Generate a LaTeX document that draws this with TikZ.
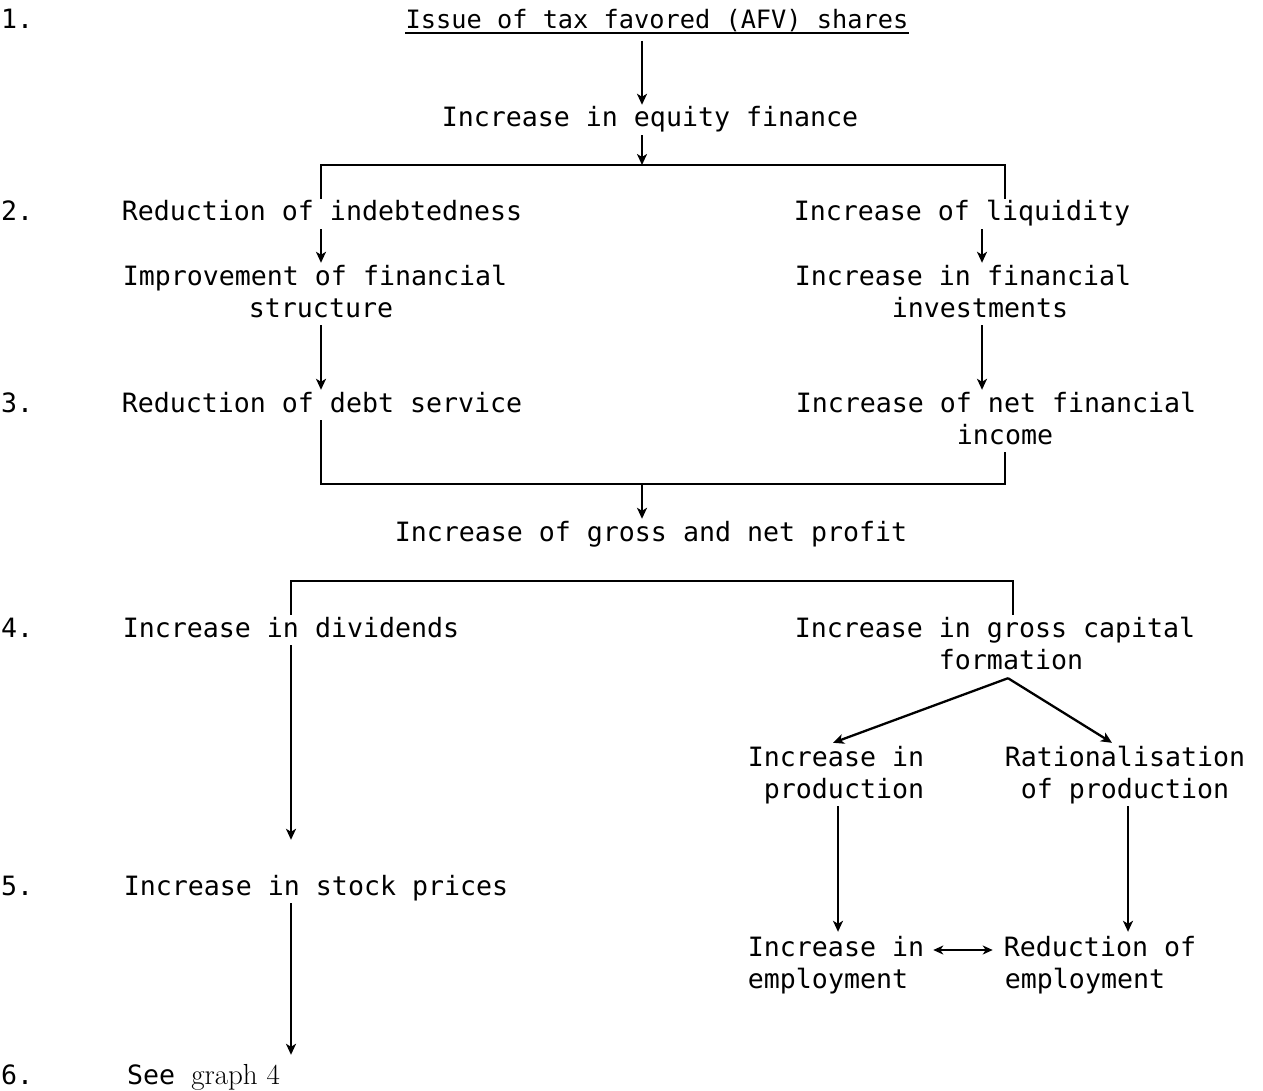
\documentclass[tikz,border=0pt]{standalone}
\usepackage{fontspec}
\newfontfamily\tw{DejaVu Sans Mono}
\usetikzlibrary{arrows.meta}
\begin{document}
\begin{tikzpicture}[x=1pt,y=-1pt,
  txt/.style={font=\tw\fontsize{26.6}{32}\selectfont, inner xsep=0pt, inner ysep=2pt, text height=20pt, text depth=6pt, anchor=base},
  num/.style={txt, anchor=base west},
  ln/.style={line width=2.3pt},
  arr/.style={ln, -{Stealth[length=11pt,width=10pt,inset=3pt]}},
  darr/.style={ln, {Stealth[length=10pt,width=9pt,inset=3pt]}-{Stealth[length=10pt,width=9pt,inset=3pt]}}]
\path[use as bounding box] (0,0) rectangle (1263,1091);
% row numbers
\node[num] (n1) at (1,29) {1.};
\node[num] (n2) at (1,221) {2.};
\node[num] (n3) at (1,412) {3.};
\node[num] (n4) at (1,637) {4.};
\node[num] (n5) at (1,895) {5.};
\node[num] (n6) at (1,1084) {6.};
% nodes
\node[txt, font=\tw\fontsize{25.3}{32}\selectfont] (title) at (657,29) {Issue of tax favored (AFV) shares};
\node[txt] (eq) at (650,127) {Increase in equity finance};
\node[txt] (r2l) at (322,221) {Reduction of indebtedness};
\node[txt] (r2r) at (962,221) {Increase of liquidity};
\node[txt] (imp1) at (315,285) {Improvement of financial};
\node[txt] (imp2) at (321,317) {structure};
\node[txt] (inc1) at (963,285) {Increase in financial};
\node[txt] (inc2) at (980,317) {investments};
\node[txt] (r3l) at (322,412) {Reduction of debt service};
\node[txt] (r3r1) at (996,412) {Increase of net financial};
\node[txt] (r3r2) at (1005,444) {income};
\node[txt] (prof) at (651,541) {Increase of gross and net profit};
\node[txt] (r4l) at (291,637) {Increase in dividends};
\node[txt] (r4r1) at (995,637) {Increase in gross capital};
\node[txt] (r4r2) at (1011,669) {formation};
\node[txt] (p1) at (836,766) {Increase in};
\node[txt] (p2) at (844,798) {production};
\node[txt] (q1) at (1125,766) {Rationalisation};
\node[txt] (q2) at (1125,798) {of production};
\node[txt] (e1) at (836,956) {Increase in};
\node[txt] (e2) at (828,988) {employment};
\node[txt] (f1) at (1100,956) {Reduction of};
\node[txt] (f2) at (1085,988) {employment};
\node[txt] (r5) at (316,895) {Increase in stock prices};
\node[txt, anchor=base west] (r6) at (127,1084) {See {\fontspec{Latin Modern Roman 10 Regular}\fontsize{29}{32}\selectfont graph 4}};
% x positions
\coordinate (xc) at (642,0);
\coordinate (xL) at (321,0);
\coordinate (xR) at (982,0);
\coordinate (xRR) at (1005,0);
\coordinate (xD) at (291,0);
\coordinate (xG) at (1013,0);
\coordinate (xP) at (838,0);
\coordinate (xQ) at (1128,0);
\coordinate (b1) at (0,165);
\coordinate (b2) at (0,484);
\coordinate (b3) at (0,581);
% underline of title
\draw[line width=1.8pt] ([yshift=-4pt]title.base west) -- ([yshift=-4pt]title.base east);
% connectors
\draw[arr] ([yshift=-12pt]title.base -| xc) -- (eq.north -| xc);
\draw[arr] (eq.south -| xc) -- (b1 -| xc);
\draw[ln] (r2l.north -| xL) -- (b1 -| xL) -- (b1 -| xRR) -- (r2r.north -| xRR);
\draw[arr] (r2l.south -| xL) -- (imp1.north -| xL);
\draw[arr] (r2r.south -| xR) -- (inc1.north -| xR);
\draw[arr] (imp2.south -| xL) -- (r3l.north -| xL);
\draw[arr] (inc2.south -| xR) -- (r3r1.north -| xR);
\draw[ln] (r3l.south -| xL) -- (b2 -| xL) -- (b2 -| xRR) -- (r3r2.south -| xRR);
\draw[arr] (b2 -| xc) -- (prof.north -| xc);
\draw[ln] (r4l.north -| xD) -- (b3 -| xD) -- (b3 -| xG) -- (r4r1.north -| xG);
\draw[arr, shorten >=33pt] (r4l.south -| xD) -- (r5.north -| xD);
\draw[arr, shorten >=7pt] (r5.south -| xD) -- (r6.north -| xD);
\coordinate (apex) at ([yshift=-1pt]r4r2.south -| 1008,0);
\draw[arr] (apex) -- ([xshift=-3pt,yshift=1pt]p1.north);
\draw[arr] (apex) -- ([xshift=-13pt,yshift=1pt]q1.north);
\draw[arr] (p2.south -| xP) -- ([yshift=2pt]e1.north -| xP);
\draw[arr] (q2.south -| xQ) -- ([yshift=2pt]f1.north -| xQ);
\draw[darr] ([xshift=9pt,yshift=6pt]e1.base east) -- ([xshift=-11pt,yshift=6pt]f1.base west);
\end{tikzpicture}
\end{document}
